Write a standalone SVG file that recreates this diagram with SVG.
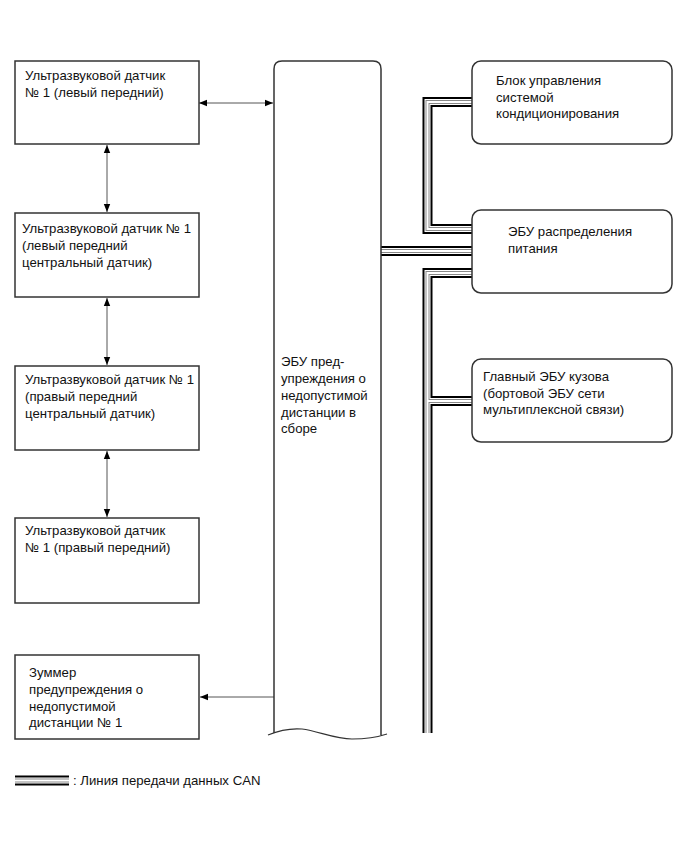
<svg xmlns="http://www.w3.org/2000/svg" width="689" height="853" viewBox="0 0 689 853">
<style>
text{font-family:"Liberation Sans",Arial,sans-serif;font-size:13.2px;fill:#111}
.box{fill:#fff;stroke:#333;stroke-width:1.5}
.arr{stroke:#555;stroke-width:1;fill:none}
.c1{fill:none;stroke:#000;stroke-width:10;stroke-linejoin:miter}
.c2{fill:none;stroke:#fff;stroke-width:6;stroke-linejoin:miter}
.c3{fill:none;stroke:#888;stroke-width:4;stroke-linejoin:miter}
.c4{fill:none;stroke:#fff;stroke-width:2;stroke-linejoin:miter}
</style>
<defs>
<marker id="ah" viewBox="0 0 10 10" refX="10" refY="5" markerWidth="8" markerHeight="8" markerUnits="userSpaceOnUse" orient="auto-start-reverse">
<path d="M0,1 L10,5 L0,9 z" fill="#000"/>
</marker>
<path id="bus1" d="M472,102 H427.5 V229 H472"/>
<path id="bus2" d="M381,251 H472"/>
<path id="bus3" d="M472,273 H427.5 V733"/>
<path id="bus4" d="M427.5,401 H472"/>
<path id="leg" d="M15,780.5 H69"/>
</defs>

<g id="connectors">
<line class="arr" x1="199" y1="103" x2="273" y2="103" marker-start="url(#ah)" marker-end="url(#ah)"/>
<line class="arr" x1="107" y1="145" x2="107" y2="212" marker-start="url(#ah)" marker-end="url(#ah)"/>
<line class="arr" x1="107" y1="298" x2="107" y2="365" marker-start="url(#ah)" marker-end="url(#ah)"/>
<line class="arr" x1="107" y1="451" x2="107" y2="517" marker-start="url(#ah)" marker-end="url(#ah)"/>
<line class="arr" x1="274" y1="697" x2="200" y2="697" marker-end="url(#ah)"/>
<g id="can-bus">
<use href="#bus1" class="c1"/><use href="#bus2" class="c1"/><use href="#bus3" class="c1"/><use href="#bus4" class="c1"/>
<use href="#bus1" class="c2"/><use href="#bus2" class="c2"/><use href="#bus3" class="c2"/><use href="#bus4" class="c2"/>
<use href="#bus1" class="c3"/><use href="#bus2" class="c3"/><use href="#bus3" class="c3"/><use href="#bus4" class="c3"/>
<use href="#bus1" class="c4"/><use href="#bus2" class="c4"/><use href="#bus3" class="c4"/><use href="#bus4" class="c4"/>
</g>
</g>

<g id="sensor1">
<rect class="box" x="15" y="61" width="184" height="83"/>
<text x="25" y="80">Ультразвуковой датчик</text>
<text x="25" y="97">№ 1 (левый передний)</text>
</g>
<g id="sensor2">
<rect class="box" x="15" y="213" width="184" height="84"/>
<text x="22" y="233">Ультразвуковой датчик № 1</text>
<text x="22" y="250">(левый передний</text>
<text x="22" y="267">центральный датчик)</text>
</g>
<g id="sensor3">
<rect class="box" x="15" y="366" width="184" height="84"/>
<text x="25" y="384">Ультразвуковой датчик № 1</text>
<text x="25" y="401">(правый передний</text>
<text x="25" y="418">центральный датчик)</text>
</g>
<g id="sensor4">
<rect class="box" x="15" y="518" width="184" height="85"/>
<text x="25" y="535">Ультразвуковой датчик</text>
<text x="25" y="552">№ 1 (правый передний)</text>
</g>
<g id="buzzer">
<rect class="box" x="15" y="655" width="184" height="84"/>
<text x="29" y="677">Зуммер</text>
<text x="29" y="694">предупреждения о</text>
<text x="29" y="711">недопустимой</text>
<text x="29" y="727">дистанции № 1</text>
</g>
<g id="ecu">
<path d="M274,733 V69 Q274,61 282,61 H373 Q381,61 381,69 V735" fill="#fff" stroke="#333" stroke-width="1.5"/>
<path d="M268,735 C280,730 290,728 302,729 C318,731 335,739 352,739 C366,739 378,737 387,734" fill="none" stroke="#333" stroke-width="1.2"/>
<text x="281" y="366">ЭБУ пред-</text>
<text x="281" y="383">упреждения о</text>
<text x="281" y="400">недопустимой</text>
<text x="281" y="417">дистанции в</text>
<text x="281" y="433">сборе</text>
</g>
<g id="ac-control">
<rect class="box" x="472" y="61" width="200" height="83" rx="9"/>
<text x="496" y="85">Блок управления</text>
<text x="496" y="102">системой</text>
<text x="496" y="118">кондиционирования</text>
</g>
<g id="power-ecu">
<rect class="box" x="472" y="210" width="200" height="83" rx="9"/>
<text x="508" y="236">ЭБУ распределения</text>
<text x="508" y="253">питания</text>
</g>
<g id="body-ecu">
<rect class="box" x="472" y="359" width="200" height="83" rx="9"/>
<text x="483" y="381">Главный ЭБУ кузова</text>
<text x="483" y="398">(бортовой ЭБУ сети</text>
<text x="483" y="414">мультиплексной связи)</text>
</g>
<g id="legend">
<use href="#leg" class="c1"/><use href="#leg" class="c2"/><use href="#leg" class="c3"/><use href="#leg" class="c4"/>
<text x="73" y="785">: Линия передачи данных CAN</text>
</g>
</svg>
